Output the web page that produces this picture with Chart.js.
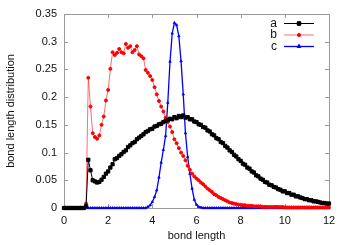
<!DOCTYPE html>
<html><head><meta charset="utf-8">
<script src="https://cdn.jsdelivr.net/npm/chart.js@4/dist/chart.umd.min.js"></script>
<style>html,body{margin:0;padding:0;background:#fff}</style>
</head><body>
<canvas id="c" width="350" height="245"></canvas>
<script>
const bondLength = [0,0.1,0.2,0.3,0.4,0.5,0.6,0.7,0.8,0.9,
1.0,1.1,1.2,1.3,1.4,1.5,1.6,1.7,1.8,1.9,
2.0,2.1,2.2,2.3,2.4,2.5,2.6,2.7,2.8,2.9,
3.0,3.1,3.2,3.3,3.4,3.5,3.6,3.7,3.8,3.9,
4.0,4.1,4.2,4.3,4.4,4.5,4.6,4.7,4.8,4.9,
5.0,5.1,5.2,5.3,5.4,5.5,5.6,5.7,5.8,5.9,
6.0,6.1,6.2,6.3,6.4,6.5,6.6,6.7,6.8,6.9,
7.0,7.1,7.2,7.3,7.4,7.5,7.6,7.7,7.8,7.9,
8.0,8.1,8.2,8.3,8.4,8.5,8.6,8.7,8.8,8.9,
9.0,9.1,9.2,9.3,9.4,9.5,9.6,9.7,9.8,9.9,
10.0,10.1,10.2,10.3,10.4,10.5,10.6,10.7,10.8,10.9,
11.0,11.1,11.2,11.3,11.4,11.5,11.6,11.7,11.8,11.9,
12.0];
const seriesA = [0,0,0,0,0,0,0,0,0,0,
0.003,0.087,0.068,0.050,0.048,0.046,0.047,0.051,0.056,0.062,
0.066,0.073,0.079,0.088,0.090,0.094,0.097,0.101,0.104,0.110,
0.113,0.117,0.119,0.124,0.127,0.130,0.133,0.137,0.139,0.142,
0.143,0.147,0.148,0.151,0.152,0.155,0.157,0.159,0.161,0.160,
0.164,0.162,0.166,0.164,0.167,0.163,0.164,0.160,0.160,0.156,
0.155,0.151,0.150,0.146,0.145,0.140,0.138,0.133,0.131,0.126,
0.124,0.119,0.117,0.112,0.109,0.104,0.101,0.096,0.093,0.088,
0.085,0.080,0.078,0.073,0.071,0.066,0.064,0.059,0.057,0.053,
0.051,0.047,0.046,0.042,0.041,0.038,0.037,0.034,0.033,0.030,
0.030,0.027,0.027,0.024,0.024,0.021,0.021,0.019,0.018,0.016,
0.016,0.014,0.014,0.012,0.012,0.011,0.010,0.009,0.009,0.008,
0.008];
const seriesB = [0,0,0,0,0,0,0,0,0,0,
0.008,0.235,0.183,0.135,0.128,0.125,0.131,0.150,0.165,0.194,
0.213,0.251,0.281,0.276,0.280,0.287,0.281,0.279,0.296,0.289,
0.292,0.281,0.285,0.292,0.277,0.274,0.270,0.249,0.244,0.238,
0.231,0.218,0.205,0.193,0.183,0.174,0.163,0.155,0.147,0.137,
0.124,0.117,0.108,0.100,0.094,0.086,0.076,0.069,0.062,0.057,
0.053,0.050,0.046,0.043,0.039,0.035,0.032,0.029,0.025,0.023,
0.020,0.018,0.016,0.014,0.012,0.010,0.009,0.008,0.007,0.006,
0.006,0.005,0.005,0.004,0.004,0.004,0.003,0.003,0.003,0.003,
0.002,0.002,0.002,0.002,0.002,0.002,0.002,0.002,0.002,0.002,
0.001,0.001,0.001,0.001,0.001,0.001,0.001,0.001,0.001,0.001,
0.001,0.001,0.001,0.001,0.001,0.001,0.001,0.001,0.001,0.001,
0.001];
const seriesC = [0,0,0,0,0,0,0,0,0,0,
0,0,0,0,0,0,0,0,0,0,
0,0,0,0,0,0,0,0,0,0,
0,0,0,0,0,0,0,0,0.002,0.005,
0.011,0.020,0.032,0.055,0.082,0.105,0.130,0.190,0.264,0.315,
0.334,0.330,0.310,0.265,0.205,0.135,0.092,0.062,0.035,0.015,
0.006,0.002,0.001,0,0,0,0,0,0,0,
0,0,0,0,0,0,0,0,0,0,
0,0,0,0,0,0,0,0,0,0,
0,0,0,0,0,0,0,0,0,0,
0,0,0,0,0,0,0,0,0,0,
0,0,0,0,0,0,0,0,0,0,
0];
const seriesNames = ['a','b','c'];
const xTicks = [0,2,4,6,8,10,12];
const yTicks = [0,0.05,0.1,0.15,0.2,0.25,0.3,0.35];
const yTickLabels = ['0','0.05','0.1','0.15','0.2','0.25','0.3','0.35'];

const FONT = 'Liberation Sans, Arial, sans-serif';
const pts = arr => arr.map((v,i)=>({x:bondLength[i], y:v}));

const framePlugin = {
  id:'frame',
  beforeDatasetsDraw(chart){
    const {ctx, chartArea:a, scales:{x,y}} = chart;
    ctx.save();
    ctx.strokeStyle = '#9a9a9a';
    ctx.lineWidth = 1;
    ctx.strokeRect(Math.round(a.left)+0.5, Math.round(a.top)+0.5, Math.round(a.right-a.left), Math.round(a.bottom-a.top));
    ctx.beginPath();
    const L = 4;
    xTicks.forEach(v=>{
      const px = Math.round(x.getPixelForValue(v))+0.5;
      ctx.moveTo(px, a.bottom); ctx.lineTo(px, a.bottom-L);
      ctx.moveTo(px, a.top); ctx.lineTo(px, a.top+L);
    });
    yTicks.forEach(v=>{
      const py = Math.round(y.getPixelForValue(v))+0.5;
      ctx.moveTo(a.left, py); ctx.lineTo(a.left+L, py);
      ctx.moveTo(a.right, py); ctx.lineTo(a.right-L, py);
    });
    ctx.stroke();
    ctx.restore();
  },
  afterDatasetsDraw(chart){
    const {ctx, chartArea:a} = chart;
    ctx.save();
    ctx.font = '12px ' + FONT;
    ctx.textAlign = 'right';
    ctx.textBaseline = 'middle';
    chart.data.datasets.forEach((ds,i)=>{
      const yy = a.top + 9.5 + i*11.5;
      ctx.fillStyle = '#111';
      ctx.fillText(ds.label, a.right - 52, yy);
      ctx.strokeStyle = ds.borderColor;
      ctx.lineWidth = ds.borderWidth;
      ctx.beginPath();
      ctx.moveTo(a.right - 45, yy); ctx.lineTo(a.right - 15, yy);
      ctx.stroke();
      const meta = chart.getDatasetMeta(i);
      const el = meta.data[0];
      Chart.helpers.drawPoint(ctx, {pointStyle: ds.pointStyle, radius: ds.pointRadius, borderWidth: 1, rotation:0}, a.right - 30, yy);
      ctx.fillStyle = ds.pointBackgroundColor;
      ctx.strokeStyle = ds.pointBorderColor;
      ctx.beginPath();
      Chart.helpers.drawPoint(ctx, {pointStyle: ds.pointStyle, radius: ds.pointRadius, borderWidth: 1, rotation:0}, a.right - 30, yy);
    });
    ctx.restore();
  }
};

new Chart(document.getElementById('c'), {
  type:'line',
  data:{
    datasets:[
      {label:seriesNames[0], data:pts(seriesA), borderColor:'#000', borderWidth:1,
       pointStyle:'rect', pointRadius:2.3, pointBackgroundColor:'#000', pointBorderColor:'#000', pointBorderWidth:1},
      {label:seriesNames[1], data:pts(seriesB), borderColor:'rgba(255,60,60,0.75)', borderWidth:1,
       pointStyle:'circle', pointRadius:1.5, pointBackgroundColor:'#f00', pointBorderColor:'#f00', pointBorderWidth:1},
      {label:seriesNames[2], data:pts(seriesC), borderColor:'#0000ff', borderWidth:1.3,
       pointStyle:'triangle', pointRadius:1.4, pointBackgroundColor:'#00f', pointBorderColor:'#00f', pointBorderWidth:0.8}
    ]
  },
  options:{
    responsive:false, animation:false,
    clip:false,
    layout:{padding:{top:14,right:21,left:0,bottom:0}},
    plugins:{legend:{display:false}, tooltip:{enabled:false}},
    elements:{line:{tension:0}},
    scales:{
      x:{type:'linear', min:0, max:12,
        afterBuildTicks(s){ s.ticks = xTicks.map(v=>({value:v})); },
        afterFit(s){ s.height = 37; },
        grid:{display:false, drawTicks:false}, border:{display:false},
        ticks:{font:{family:FONT,size:11}, color:'#111', padding:6, maxRotation:0},
        title:{display:true, text:'bond length', font:{family:FONT,size:11}, color:'#111', padding:{top:0,bottom:2}}
      },
      y:{min:0, max:0.35,
        afterBuildTicks(s){ s.ticks = yTicks.map(v=>({value:v})); },
        afterFit(s){ s.width = 64; },
        grid:{display:false, drawTicks:false}, border:{display:false},
        ticks:{font:{family:FONT,size:11}, color:'#111', padding:7,
          callback:(v,i)=>yTickLabels[i]},
        title:{display:true, text:'bond length distribution', font:{family:FONT,size:11}, color:'#111', padding:{top:4,bottom:0}}
      }
    }
  },
  plugins:[framePlugin]
});
</script>
</body></html>
